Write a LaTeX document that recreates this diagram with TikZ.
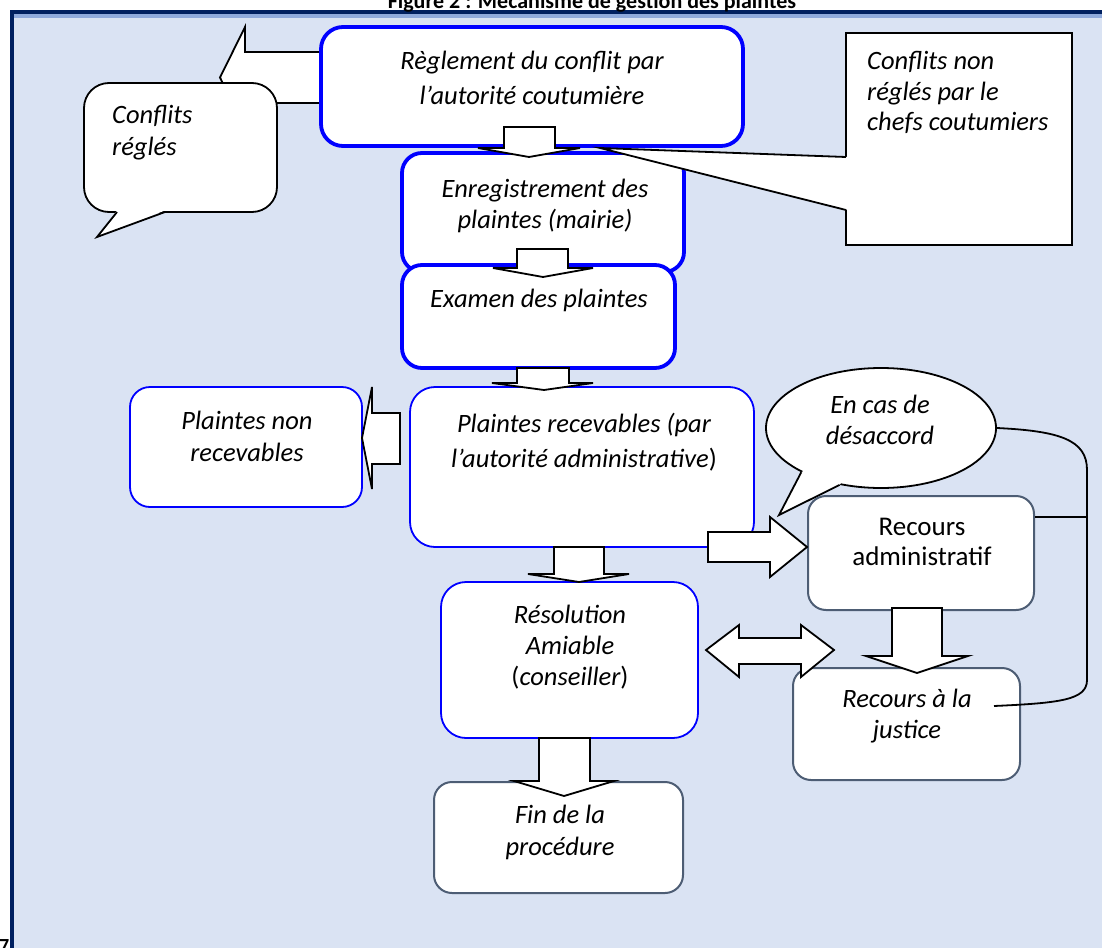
\documentclass[tikz,border=0pt]{standalone}
\usepackage{fontspec}
\setmainfont{Carlito}
\usetikzlibrary{shapes.geometric}
\definecolor{navy}{HTML}{002060}
\definecolor{strip}{HTML}{8FAADC}
\definecolor{bgblue}{HTML}{DAE3F3}
\definecolor{slate}{HTML}{4D5D74}
\newcommand{\tf}[1]{\fontsize{26.5}{#1}\selectfont}
\begin{document}
\begin{tikzpicture}[x=1pt,y=-1pt,
  bthick/.style={draw=blue, line width=3.8pt, fill=white, rounded corners=20pt, inner sep=0pt},
  bthin/.style={draw=blue, line width=1.8pt, fill=white, rounded corners=24pt, inner sep=0pt},
  sbox/.style={draw=slate, line width=2pt, fill=white, rounded corners=18pt, inner sep=0pt},
  cbox/.style={draw=black, line width=1.8pt, fill=white, inner sep=0pt},
  blk/.style={draw=black, line width=1.8pt, fill=white, line join=miter},
  cline/.style={draw=black, line width=1.8pt},
  txt/.style={align=center, inner sep=0pt, anchor=base},
  ltxt/.style={align=left, inner sep=0pt, anchor=base west},
]
\useasboundingbox (0,0) rectangle (1102,947);
% frame
\fill[bgblue] (14,14) rectangle (1110,960);
\fill[strip] (14,14) rectangle (1110,18);
\fill[navy] (10,10) rectangle (1110,14);
\fill[navy] (10,10) rectangle (14,960);
\node[font=\bfseries\fontsize{22}{24}\selectfont, anchor=base, inner sep=0pt] (title) at (592,8.5) {Figure 2 : Mécanisme de gestion des plaintes};
\node[font=\bfseries\fontsize{20}{20}\selectfont, anchor=base west, inner sep=0pt] (pg) at (-1,952) {7};

% arrow towards left callout
\draw[blk] (321,52) -- (245,52) -- (245,27) -- (220,77.5) -- (245,128) -- (245,103) -- (321,103) -- cycle;
% box A
\node[bthick, rounded corners=22pt, minimum width=422pt, minimum height=119pt] (A) at (532,86.5) {};
% left callout
\node[cbox, rounded corners=25pt, minimum width=193pt, minimum height=129pt] (CL) at (180.5,147.5) {};
\coordinate (CLtip) at (97,237);
\fill[white] (117,210.5) -- (CLtip) -- (165,210.5) -- cycle;
\draw[cline, line join=miter] (117,212) -- (CLtip) -- (165,212);
% boxes B and C
\node[bthick, minimum width=282pt, minimum height=119pt] (B) at (543,212.5) {};
\node[bthick, minimum width=273pt, minimum height=103pt] (C) at (538.5,316.5) {};
% right callout
\node[cbox, minimum width=226pt, minimum height=212pt] (CR) at (959,139) {};
\coordinate (CRtip) at (600,148);
\fill[white] (848,157) -- (CRtip) -- (848,210) -- cycle;
\draw[cline, line join=miter] (846,157) -- (CRtip) -- (846,210);
% vertical arrows top
\draw[blk] (504,127) -- (555,127) -- (555,148) -- (580,148) -- (529,157) -- (478,148) -- (504,148) -- cycle;
\draw[blk] (517,249) -- (568,249) -- (568,268) -- (593,268) -- (543,277) -- (493,268) -- (517,268) -- cycle;
% boxes E and D
\node[bthin, rounded corners=20pt, minimum width=232pt, minimum height=120pt] (E) at (246,447) {};
\node[bthin, rounded corners=25pt, minimum width=344pt, minimum height=160pt] (D) at (582,467) {};
\draw[blk] (517,368) -- (569,368) -- (569,383) -- (593,383) -- (544,390) -- (492,383) -- (517,383) -- cycle;
\draw[blk] (400,413) -- (372,413) -- (372,387) -- (362,438) -- (372,489) -- (372,464) -- (400,464) -- cycle;
% ellipse callout
\node[ellipse, draw=black, line width=1.8pt, fill=white, minimum width=230pt, minimum height=120pt, inner sep=0pt] (EC) at (881,428) {};
\coordinate (ECtip) at (779,515);
\fill[white] (EC.209) -- (ECtip) -- (EC.234) -- (EC.center) -- cycle;
\draw[cline, line join=miter] (EC.209) -- (ECtip) -- (EC.234);
% lower boxes
\node[sbox, minimum width=226pt, minimum height=114pt] (F) at (921,553) {};
\node[bthin, rounded corners=25pt, minimum width=257pt, minimum height=156pt] (G) at (569.5,660) {};
\node[sbox, minimum width=227pt, minimum height=112pt] (H) at (906.5,724) {};
\node[sbox, minimum width=249pt, minimum height=111pt] (I) at (558.5,837.5) {};
% lower arrows
\draw[blk] (708,532) -- (770,532) -- (770,517) -- (807,547) -- (770,577) -- (770,562) -- (708,562) -- cycle;
\draw[blk] (554,547) -- (604,547) -- (604,574) -- (629,574) -- (579,582) -- (528,574) -- (554,574) -- cycle;
\draw[blk] (892,608) -- (942,608) -- (942,656) -- (968,656) -- (917,673) -- (866,656) -- (892,656) -- cycle;
\draw[blk] (539,738) -- (590,738) -- (590,781) -- (614,781) -- (564,796) -- (514,781) -- (539,781) -- cycle;
\draw[blk] (706,650) -- (739,625) -- (739,638) -- (801,638) -- (801,625) -- (834,650) -- (801,677) -- (801,664) -- (739,664) -- (739,677) -- cycle;
% connector lines
\coordinate (jmid) at (1087,517);
\coordinate (jend) at (994,706);
\draw[cline] (EC.east) .. controls (1060,431) and (1087,440) .. (1087,470) -- (1087,680) .. controls (1087,700) and (1060,703) .. (jend);
\draw[cline] ([yshift=36pt]F.east) -- (jmid);
% texts (anchored at the baseline of the last line)
\node[txt, font=\itshape\tf{35}] (At) at (532,105) {Règlement du conflit par\\l’autorité coutumière};
\node[ltxt, font=\itshape\tf{32}] (CLt) at (112,155) {Conflits\\réglés};
\node[ltxt, font=\itshape\tf{30.5}] (CRt) at (867,131) {Conflits non\\réglés par le\\chefs coutumiers};
\node[txt, font=\itshape\tf{31}] (Bt) at (545,228) {Enregistrement des\\plaintes (mairie)};
\node[txt, font=\itshape\tf{31}] (Ct) at (539,307) {Examen des plaintes};
\node[txt, font=\itshape\tf{35}] (Dt) at (584,467) {Plaintes recevables (par\\l’autorité administrative\upshape)};
\node[txt, font=\itshape\tf{32}] (Et) at (247,461) {Plaintes non\\recevables};
\node[txt, font=\itshape\tf{31}] (ECt) at (880,444) {En cas de\\désaccord};
\node[txt, font=\fontsize{27}{30}\selectfont] (Ft) at (922,565) {Recours\\administratif};
\node[txt, font=\itshape\tf{31}] (Gt) at (570,685) {Résolution\\Amiable\\{\upshape(}conseiller{\upshape)}};
\node[txt, font=\itshape\tf{31}] (Ht) at (907,738) {Recours à la\\justice};
\node[txt, font=\itshape\tf{32}] (It) at (560,855) {Fin de la\\procédure};
\end{tikzpicture}
\end{document}
